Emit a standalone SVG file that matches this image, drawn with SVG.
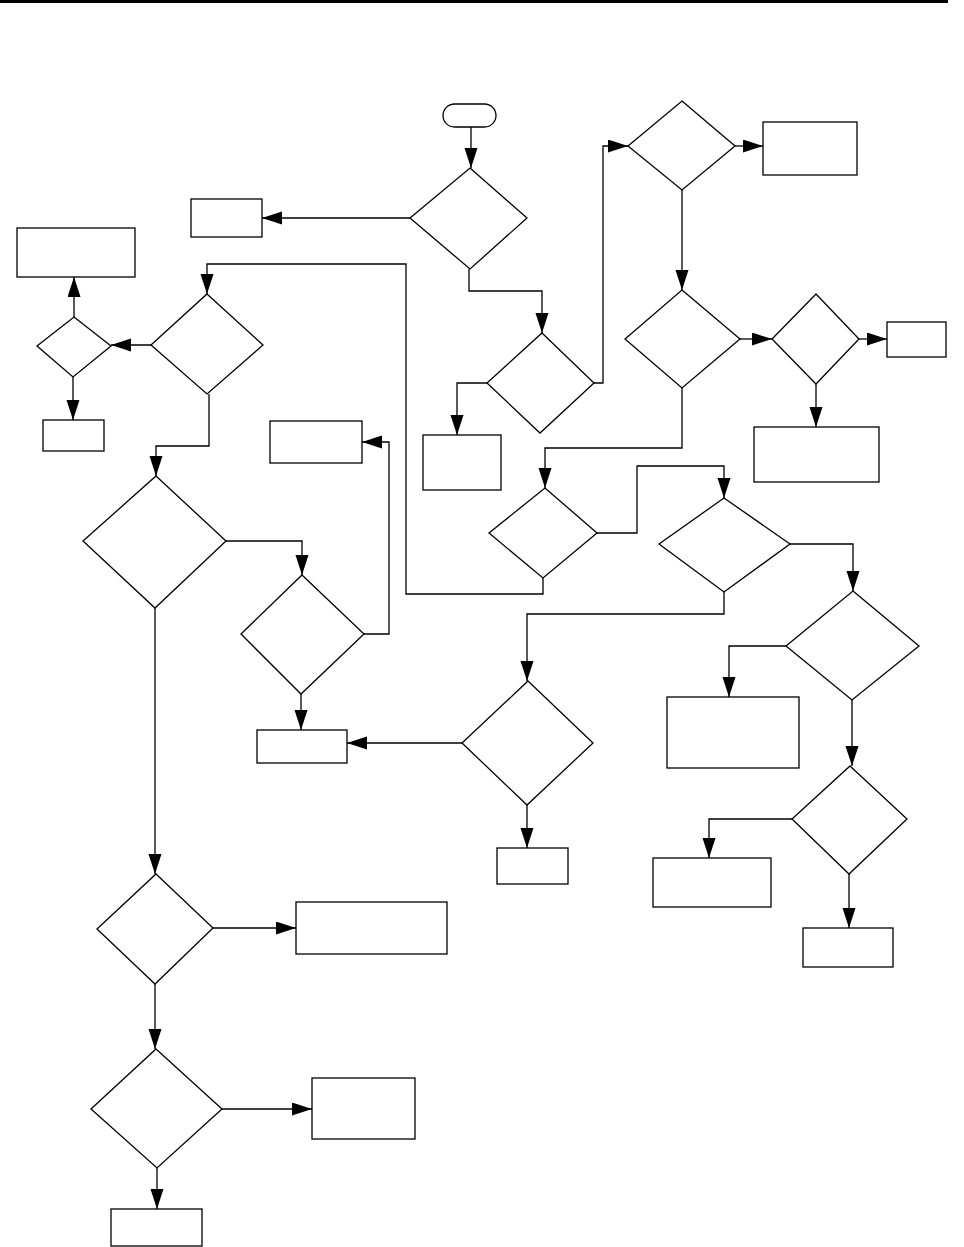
<svg xmlns="http://www.w3.org/2000/svg" width="964" height="1247" viewBox="0 0 964 1247">
<style>
.n{fill:#fff;stroke:#000;stroke-width:1.3}
.c{fill:none;stroke:#000;stroke-width:1.3}
.a{marker-end:url(#ah)}
</style>
<defs>
<marker id="ah" markerUnits="userSpaceOnUse" markerWidth="21" markerHeight="14" refX="20" refY="6.5" orient="auto" viewBox="0 0 21 14">
<path d="M0,0 L20,6.5 L0,13 z" fill="#000"/>
</marker>
</defs>
<rect x="0" y="0" width="948" height="3" fill="#000"/>
<g id="connectors">
<path class="c a" d="M471,127 V168"/>
<path class="c a" d="M410,218 H262"/>
<path class="c a" d="M469,269 V291 H542 V333"/>
<path class="c a" d="M487,383 H457 V435"/>
<path class="c a" d="M594,383 H603 V146 H628"/>
<path class="c a" d="M735,146 H763"/>
<path class="c a" d="M682,190 V290"/>
<path class="c a" d="M740,339 H772"/>
<path class="c a" d="M859,339 H887"/>
<path class="c a" d="M816,384 V427"/>
<path class="c a" d="M682,388 V448 H545 V488"/>
<path class="c a" d="M597,533 H637 V466 H724 V498"/>
<path class="c a" d="M790,544 H853 V591"/>
<path class="c a" d="M786,646 H729 V697"/>
<path class="c a" d="M852,700 V766"/>
<path class="c a" d="M792,819 H709 V858"/>
<path class="c a" d="M849,874 V928"/>
<path class="c a" d="M724,592 V614 H527 V681"/>
<path class="c a" d="M462,743 H347"/>
<path class="c a" d="M527,805 V848"/>
<path class="c a" d="M543,578 V594 H406 V264 H207 V294"/>
<path class="c a" d="M151,345 H111"/>
<path class="c a" d="M74,317 V277"/>
<path class="c a" d="M73,377 V420"/>
<path class="c a" d="M209,394 V446 H156 V476"/>
<path class="c a" d="M226,541 H302 V575"/>
<path class="c a" d="M364,634 H389 V442 H362"/>
<path class="c a" d="M301,694 V730"/>
<path class="c a" d="M155,608 V874"/>
<path class="c a" d="M213,928 H296"/>
<path class="c a" d="M155,984 V1049"/>
<path class="c a" d="M222,1109 H312"/>
<path class="c a" d="M157,1168 V1209"/>
</g>
<g id="start"><rect class="n" x="443" y="104" width="53" height="23" rx="11.5"/></g>
<g id="d1"><polygon class="n" points="470,168 527,218 470,269 410,218"/></g>
<g id="b1"><rect class="n" x="191" y="199" width="71" height="38"/></g>
<g id="d2"><polygon class="n" points="542,333 594,383 540,433 487,383"/></g>
<g id="b2"><rect class="n" x="423" y="435" width="78" height="55"/></g>
<g id="d3"><polygon class="n" points="682,101 735,146 682,190 628,146"/></g>
<g id="b3"><rect class="n" x="763" y="122" width="94" height="53"/></g>
<g id="d4"><polygon class="n" points="682,290 740,339 682,388 625,339"/></g>
<g id="d5"><polygon class="n" points="816,294 859,339 816,384 772,339"/></g>
<g id="b4"><rect class="n" x="887" y="322" width="59" height="35"/></g>
<g id="b5"><rect class="n" x="754" y="427" width="125" height="55"/></g>
<g id="d6"><polygon class="n" points="545,488 597,533 543,578 489,533"/></g>
<g id="d7"><polygon class="n" points="724,498 790,544 724,592 659,544"/></g>
<g id="d8"><polygon class="n" points="853,591 919,646 852,700 786,646"/></g>
<g id="b6"><rect class="n" x="667" y="697" width="132" height="71"/></g>
<g id="d9"><polygon class="n" points="850,766 907,819 849,874 792,819"/></g>
<g id="b7"><rect class="n" x="653" y="858" width="118" height="49"/></g>
<g id="b8"><rect class="n" x="803" y="928" width="90" height="39"/></g>
<g id="d10"><polygon class="n" points="528,681 593,743 527,805 462,743"/></g>
<g id="b9"><rect class="n" x="257" y="730" width="90" height="33"/></g>
<g id="b10"><rect class="n" x="497" y="848" width="71" height="36"/></g>
<g id="d11"><polygon class="n" points="207,294 263,345 207,394 151,345"/></g>
<g id="d12"><polygon class="n" points="74,317 111,346 73,377 37,346"/></g>
<g id="b11"><rect class="n" x="17" y="228" width="118" height="49"/></g>
<g id="b12"><rect class="n" x="43" y="420" width="61" height="31"/></g>
<g id="d13"><polygon class="n" points="156,476 226,541 155,608 83,541"/></g>
<g id="d14"><polygon class="n" points="302,575 364,634 301,694 241,634"/></g>
<g id="b13"><rect class="n" x="270" y="421" width="92" height="42"/></g>
<g id="d15"><polygon class="n" points="156,874 213,928 155,984 97,929"/></g>
<g id="b14"><rect class="n" x="296" y="902" width="151" height="52"/></g>
<g id="d16"><polygon class="n" points="156,1049 222,1109 157,1168 91,1109"/></g>
<g id="b15"><rect class="n" x="312" y="1078" width="103" height="61"/></g>
<g id="b16"><rect class="n" x="111" y="1209" width="91" height="37"/></g>
</svg>
